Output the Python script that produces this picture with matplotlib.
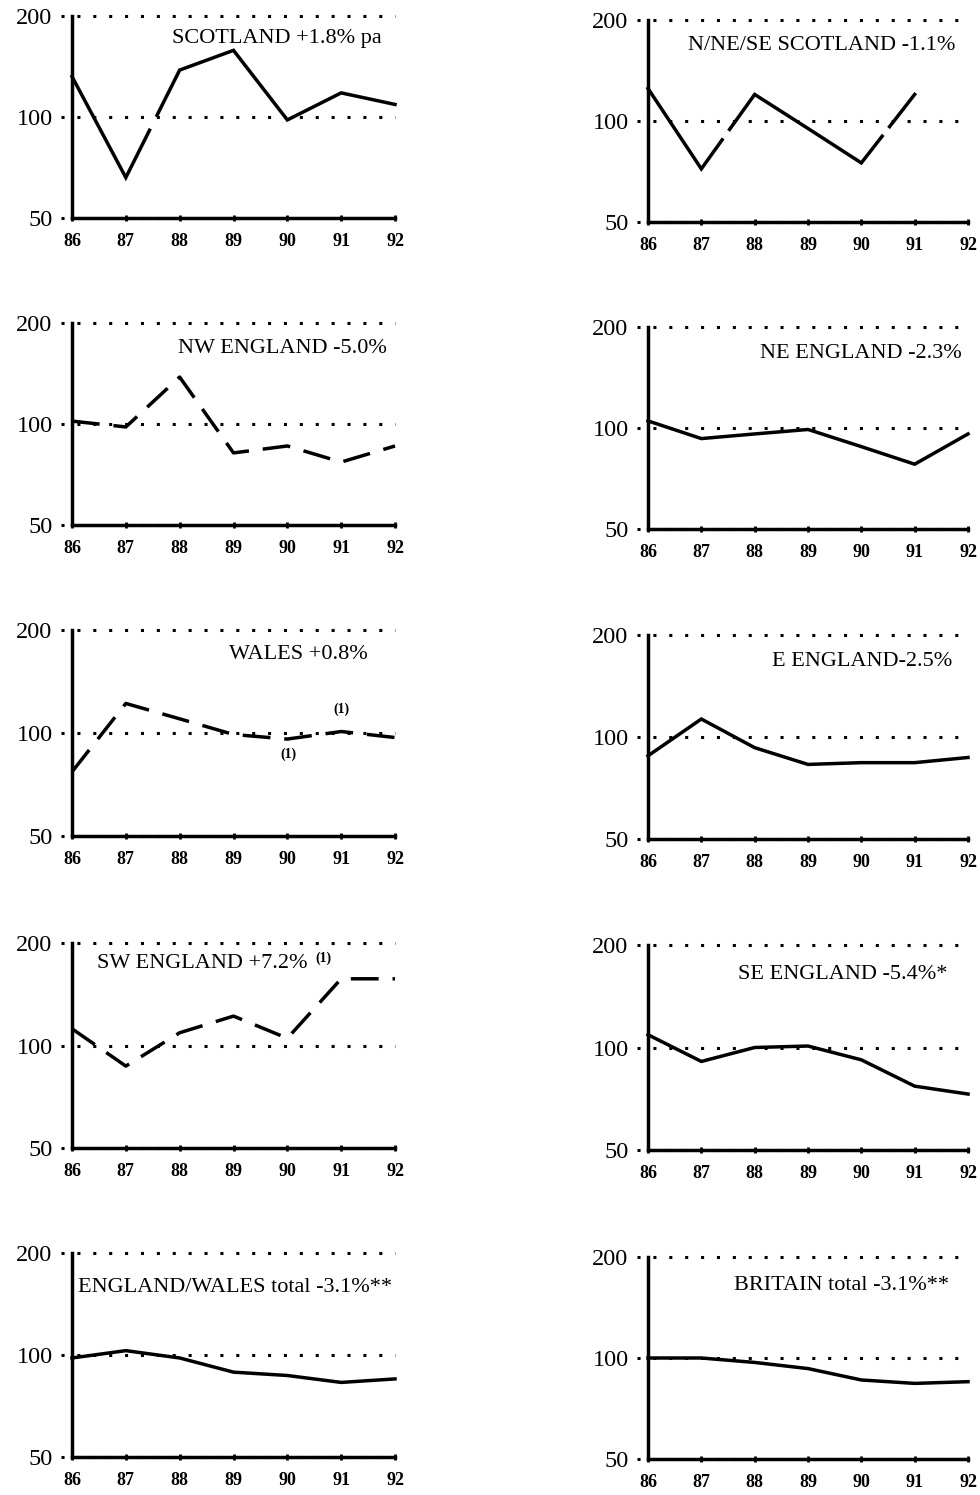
import numpy as np
import matplotlib
matplotlib.use('Agg')
import matplotlib.pyplot as plt
from matplotlib.ticker import NullLocator

plt.rcParams['font.family'] = ['Liberation Serif', 'DejaVu Serif']

# index values by year (log scale, 1986-1992)
years = [86, 87, 88, 89, 90, 91, 92]
year_labels = ['86', '87', '88', '89', '90', '91', '92']
levels = [50, 100, 200]

scotland = [132, 66, 138, 158, 98, 118, 109]
nne_se_scotland = [125, 72, 120, 95, 75, 120]      # no 1992 figure
nw_england = [102, 98, 138, 82, 86, 77, 86]
ne_england = [105, 93, 96, 99, 88, 78, 96]
wales = [77, 122, 110, 99, 96, 101, 97]
e_england = [88, 113, 93, 83, 84, 84, 87]
sw_england = [112, 87, 109, 122, 105, 157, 157]
se_england = [109, 91, 100, 101, 92, 77, 73]
eng_wales_total = [98, 103, 98, 89, 87, 83, 85]
britain_total = [100, 100, 97, 93, 86, 84, 85]

titles = ['SCOTLAND +1.8% pa', 'N/NE/SE SCOTLAND -1.1%',
          'NW ENGLAND -5.0%', 'NE ENGLAND -2.3%',
          'WALES +0.8%', 'E ENGLAND-2.5%',
          'SW ENGLAND +7.2%', 'SE ENGLAND -5.4%*',
          'ENGLAND/WALES total -3.1%**', 'BRITAIN total -3.1%**']

W, H = 980, 1495
fig = plt.figure(figsize=(W / 100, H / 100), dpi=100)

# panel frames in pixels: left edge, width, and (top, bottom) per row
col_x = [(72, 323), (648, 320)]
row_y = [[(16, 218), (323, 525), (630, 836), (943, 1148), (1253, 1457)],
         [(20, 222), (327, 529), (635, 839), (945, 1150), (1257, 1459)]]


def make_axes(col, row):
    x0, w = col_x[col]
    top, bot = row_y[col][row]
    ax = fig.add_axes([x0 / W, 1 - bot / H, w / W, (bot - top) / H])
    ax.set_yscale('log')
    ax.set_ylim(50, 200)
    ax.set_xlim(86, 92)
    ax.yaxis.set_minor_locator(NullLocator())
    ax.set_yticks(levels)
    ax.set_yticklabels([str(v) for v in levels], fontsize=17.5)
    ax.set_xticks(years)
    ax.set_xticklabels(year_labels, fontsize=13, fontweight='bold')
    ax.tick_params(axis='y', length=0, pad=14)
    ax.tick_params(axis='x', direction='inout', length=5, width=2, pad=8)
    for s in ['top', 'right']:
        ax.spines[s].set_visible(False)
    for s in ['left', 'bottom']:
        ax.spines[s].set_linewidth(2.5)
        ax.spines[s].set_zorder(4)
    # dotted reference levels, starting a little left of the axis
    ax.hlines(levels, 85.8, 92, colors='black', linewidth=2.2,
              linestyles=(0, (1, 4.2)), clip_on=False, zorder=1)
    return ax


def draw_series(ax, values, gaps=None, dashed=False):
    # straight segments on log axis; gaps = {segment: (start frac, end frac)}
    gaps = gaps or {}
    x = np.array(years[:len(values)], dtype=float)
    ly = np.log(np.array(values, dtype=float))
    pieces = []
    px, py = [x[0]], [ly[0]]
    for i in range(len(x) - 1):
        if i in gaps:
            f0, f1 = gaps[i]
            px.append(x[i] + f0 * (x[i + 1] - x[i]))
            py.append(ly[i] + f0 * (ly[i + 1] - ly[i]))
            pieces.append((px, py))
            px = [x[i] + f1 * (x[i + 1] - x[i])]
            py = [ly[i] + f1 * (ly[i + 1] - ly[i])]
        px.append(x[i + 1])
        py.append(ly[i + 1])
    pieces.append((px, py))
    style = dict(color='black', linewidth=2.5, zorder=3,
                 solid_joinstyle='miter', clip_on=False)
    if dashed:
        style['dashes'] = (8, 4)
    for px, py in pieces:
        ax.plot(px, np.exp(py), **style)


def put_title(ax, text, x, y, ha='right'):
    return ax.text(x, y, text, transform=ax.transAxes, ha=ha, va='center',
                   fontsize=16)


ax = make_axes(0, 0)
draw_series(ax, scotland, gaps={1: (0.44, 0.58)})
put_title(ax, titles[0], 0.96, 0.89)

ax = make_axes(1, 0)
draw_series(ax, nne_se_scotland, gaps={1: (0.39, 0.53), 4: (0.39, 0.53)})
put_title(ax, titles[1], 0.96, 0.876)

ax = make_axes(0, 1)
draw_series(ax, nw_england, dashed=True)
put_title(ax, titles[2], 0.975, 0.876)

ax = make_axes(1, 1)
draw_series(ax, ne_england)
put_title(ax, titles[3], 0.98, 0.871)

ax = make_axes(0, 2)
draw_series(ax, wales, dashed=True)
put_title(ax, titles[4], 0.916, 0.88)
ax.annotate('(1)', (91, wales[5]), xytext=(0, 16), textcoords='offset points',
            ha='center', va='center', fontsize=10, fontweight='bold')
ax.annotate('(1)', (90, wales[4]), xytext=(1, -11), textcoords='offset points',
            ha='center', va='center', fontsize=10, fontweight='bold')

ax = make_axes(1, 2)
draw_series(ax, e_england)
put_title(ax, titles[5], 0.95, 0.868)

ax = make_axes(0, 3)
draw_series(ax, sw_england, dashed=True)
t = put_title(ax, titles[6], 0.077, 0.90, ha='left')
ax.annotate('(1)', xy=(1, 1), xycoords=t, xytext=(6, -3),
            textcoords='offset points', ha='left', va='center', fontsize=10,
            fontweight='bold')

ax = make_axes(1, 3)
draw_series(ax, se_england)
put_title(ax, titles[7], 0.934, 0.854)

ax = make_axes(0, 4)
draw_series(ax, eng_wales_total)
put_title(ax, titles[8], 0.019, 0.833, ha='left')

ax = make_axes(1, 4)
draw_series(ax, britain_total)
put_title(ax, titles[9], 0.94, 0.861)

fig.savefig('out.png', dpi=100, facecolor='white')
